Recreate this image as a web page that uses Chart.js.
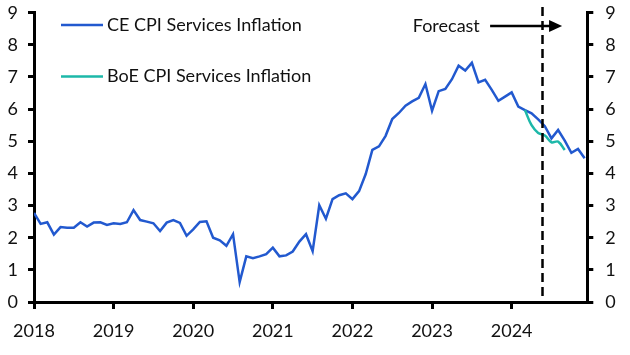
<!DOCTYPE html>
<html>
<head>
<meta charset="utf-8">
<script src="https://cdn.jsdelivr.net/npm/chart.js@4.4.1/dist/chart.umd.min.js"></script>
<style>
  html, body { margin: 0; padding: 0; background: #fff; }
  #wrap { width: 630px; height: 355px; position: relative; }
</style>
</head>
<body>
<div id="wrap"><canvas id="c" width="630" height="355"></canvas></div>
<script>
// ---- Data (monthly, Jan 2018 = index 0) ----
const startYear = 2018;
const yearTicks = [2018, 2019, 2020, 2021, 2022, 2023, 2024];
const yTicks = [0, 1, 2, 3, 4, 5, 6, 7, 8, 9];

const ceServices = [
  // 2018
  2.77, 2.43, 2.48, 2.10, 2.33, 2.31, 2.31, 2.48, 2.35, 2.47, 2.48, 2.40,
  // 2019
  2.45, 2.43, 2.48, 2.86, 2.55, 2.50, 2.45, 2.21, 2.47, 2.55, 2.46, 2.06,
  // 2020
  2.26, 2.49, 2.51, 2.00, 1.92, 1.75, 2.11, 0.62, 1.42, 1.36, 1.42, 1.49,
  // 2021
  1.69, 1.42, 1.45, 1.57, 1.88, 2.11, 1.58, 3.01, 2.59, 3.20, 3.32, 3.38,
  // 2022
  3.20, 3.45, 3.98, 4.73, 4.84, 5.17, 5.69, 5.88, 6.11, 6.24, 6.35, 6.78,
  // 2023
  5.95, 6.56, 6.63, 6.93, 7.35, 7.20, 7.44, 6.83, 6.91, 6.60, 6.26, 6.39,
  // 2024
  6.52, 6.08, 5.97, 5.87, 5.68, 5.47, 5.09, 5.35, 5.02, 4.64, 4.76, 4.47
];

// BoE forecast path, Mar 2024 .. Sep 2024
const boeStartIndex = 74;
const boeServices = [5.97, 5.50, 5.26, 5.18, 4.97, 4.99, 4.73];

const forecastStart = 76.55;   // month index of the forecast divider
const seriesNames = ["CE CPI Services Inflation", "BoE CPI Services Inflation"];
const forecastLabel = "Forecast";

// ---- Build ----
const ceData = ceServices.map((v, i) => ({ x: i, y: v }));
const boeData = boeServices.map((v, i) => ({ x: boeStartIndex + i, y: v }));

const BLUE = '#2259cf';
const TEAL = '#1db8a9';
const FONT = 'Lato, "Open Sans", sans-serif';
const FS = 18;

const decor = {
  id: 'decor',
  afterDatasetsDraw(chart) {
    const { ctx, scales: { x, y } } = chart;
    ctx.save();
    // forecast divider
    const px = Math.round(x.getPixelForValue(forecastStart)) + 0.5;
    ctx.beginPath();
    ctx.setLineDash([9, 5]);
    ctx.lineWidth = 2.5;
    ctx.strokeStyle = '#000';
    ctx.moveTo(px, 7);
    ctx.lineTo(px, y.getPixelForValue(0) - 6);
    ctx.stroke();
    ctx.setLineDash([]);

    // arrow
    const ay = 26;
    const ax0 = x.getPixelForValue(68.75);
    const ax1 = x.getPixelForValue(79.6);
    ctx.beginPath();
    ctx.lineWidth = 2.3;
    ctx.moveTo(ax0, ay);
    ctx.lineTo(ax1 - 10, ay);
    ctx.stroke();
    ctx.beginPath();
    ctx.fillStyle = '#000';
    ctx.moveTo(ax1, ay);
    ctx.lineTo(ax1 - 13, ay - 6);
    ctx.lineTo(ax1 - 13, ay + 6);
    ctx.closePath();
    ctx.fill();

    // forecast text
    ctx.font = FS + 'px ' + FONT;
    ctx.fillStyle = '#111';
    ctx.textAlign = 'right';
    ctx.textBaseline = 'middle';
    ctx.fillText(forecastLabel, x.getPixelForValue(67.2), ay);

    // legend
    const items = [[seriesNames[0], BLUE, 25], [seriesNames[1], TEAL, 76.5]];
    ctx.textAlign = 'left';
    items.forEach(([t, c, ly]) => {
      ctx.beginPath();
      ctx.strokeStyle = c;
      ctx.lineWidth = 2.5;
      ctx.moveTo(61, ly);
      ctx.lineTo(103, ly);
      ctx.stroke();
      ctx.fillStyle = '#111';
      ctx.fillText(t, 107, ly);
    });
    ctx.restore();
  }
};

const zeroPad = s => { s.paddingTop = 0; s.paddingBottom = 0; s.paddingLeft = 0; s.paddingRight = 0; };

const axisCommon = {
  min: 0, max: 9,
  border: { display: true, color: '#000', width: 3 },
  grid: { drawOnChartArea: false, drawTicks: true, tickLength: 6, lineWidth: 3, color: '#000' },
  afterBuildTicks: s => { s.ticks = yTicks.map(v => ({ value: v })); },
};

new Chart(document.getElementById('c'), {
  type: 'line',
  data: {
    datasets: [
      { label: seriesNames[0], data: ceData, borderColor: BLUE, borderWidth: 2.5, pointRadius: 0, tension: 0, order: 2 },
      { label: seriesNames[1], data: boeData, borderColor: TEAL, borderWidth: 2.5, pointRadius: 0, tension: 0.35, order: 1 }
    ]
  },
  options: {
    responsive: false,
    animation: false,
    devicePixelRatio: 1,
    layout: { padding: { top: 12.7, left: 0, right: 0, bottom: 0 } },
    plugins: { legend: { display: false }, tooltip: { enabled: false } },
    scales: {
      x: {
        type: 'linear',
        min: 0, max: 83.4,
        border: { display: true, color: '#000', width: 3 },
        grid: { drawOnChartArea: false, drawTicks: true, tickLength: 7, lineWidth: 3, color: '#000' },
        afterBuildTicks: s => { s.ticks = yearTicks.map(yr => ({ value: (yr - startYear) * 12 })); },
        ticks: {
          padding: 11, color: '#111', font: { family: FONT, size: FS },
          maxRotation: 0, autoSkip: false,
          callback: v => String(startYear + Math.round(v / 12))
        },
        afterFit: s => { s.height = 53; zeroPad(s); }
      },
      y: Object.assign({}, axisCommon, {
        position: 'left',
        ticks: { padding: 10, color: '#111', font: { family: FONT, size: FS } },
        afterFit: s => { s.width = 34; zeroPad(s); }
      }),
      y2: Object.assign({}, axisCommon, {
        position: 'right',
        ticks: { padding: 12, color: '#111', font: { family: FONT, size: FS } },
        afterFit: s => { s.width = 42.7; zeroPad(s); }
      })
    }
  },
  plugins: [decor]
});
</script>
</body>
</html>
